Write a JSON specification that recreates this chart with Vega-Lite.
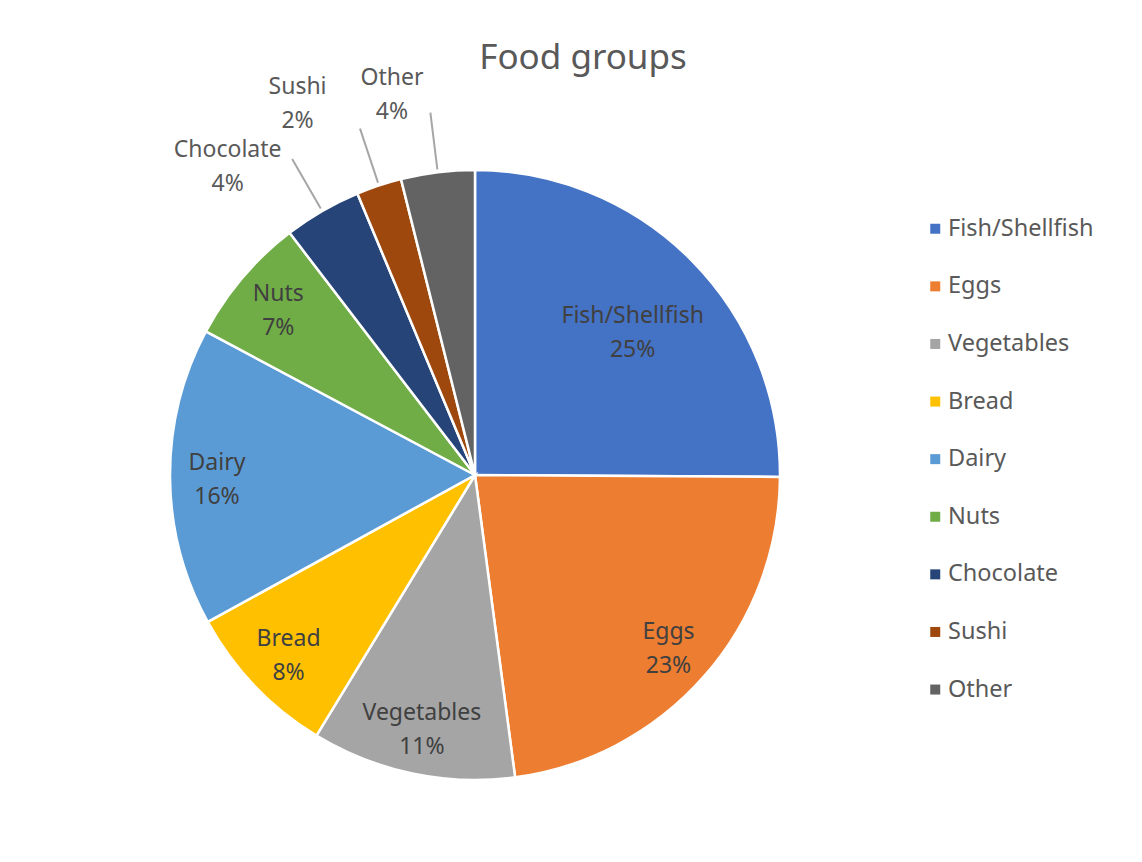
{
  "$schema": "https://vega.github.io/schema/vega-lite/v6.json",
  "width": 620,
  "height": 620,
  "autosize": {"type": "none"},
  "padding": {"left": 165, "top": 165, "right": 357, "bottom": 77},
  "background": "white",
  "title": {
    "text": "Food groups",
    "font": "Noto Sans",
    "fontSize": 35,
    "fontWeight": "normal",
    "color": "#595959",
    "anchor": "middle",
    "frame": "group",
    "baseline": "alphabetic",
    "dx": 108,
    "offset": -55
  },
  "config": {"view": {"stroke": null}, "font": "Noto Sans"},
  "data": {
    "values": [
      {"n": 1, "food": "Fish/Shellfish", "share": 25.1, "pct": "25%"},
      {"n": 2, "food": "Eggs", "share": 22.8, "pct": "23%"},
      {"n": 3, "food": "Vegetables", "share": 10.8, "pct": "11%"},
      {"n": 4, "food": "Bread", "share": 8.3, "pct": "8%"},
      {"n": 5, "food": "Dairy", "share": 15.8, "pct": "16%"},
      {"n": 6, "food": "Nuts", "share": 6.8, "pct": "7%"},
      {"n": 7, "food": "Chocolate", "share": 4.1, "pct": "4%"},
      {"n": 8, "food": "Sushi", "share": 2.4, "pct": "2%"},
      {"n": 9, "food": "Other", "share": 3.9, "pct": "4%"}
    ]
  },
  "encoding": {
    "theta": {"field": "share", "type": "quantitative", "stack": true},
    "order": {"field": "n", "type": "quantitative", "sort": "ascending"},
    "detail": {"field": "food", "type": "nominal"}
  },
  "layer": [
    {
      "mark": {"type": "arc", "outerRadius": 305, "stroke": "white", "strokeWidth": 2.5},
      "encoding": {
        "color": {
          "field": "food",
          "type": "nominal",
          "scale": {
            "domain": ["Fish/Shellfish", "Eggs", "Vegetables", "Bread", "Dairy", "Nuts", "Chocolate", "Sushi", "Other"],
            "range": ["#4472C4", "#ED7D31", "#A5A5A5", "#FFC000", "#5B9BD5", "#70AD47", "#264478", "#9E480E", "#636363"]
          },
          "legend": {
            "orient": "none",
            "legendX": 758.5,
            "legendY": 52,
            "title": null,
            "symbolType": "square",
            "symbolSize": 100,
            "symbolStrokeWidth": 0,
            "labelFont": "Noto Sans",
            "labelFontSize": 23.5,
            "labelColor": "#595959",
            "rowPadding": 32.6,
            "labelOffset": 1,
            "padding": 0
          }
        }
      }
    },
    {
      "mark": {"type": "arc", "filled": false, "outerRadius": 365, "innerRadius": 308, "padAngle": 0.6, "stroke": "#A6A6A6", "strokeWidth": 2},
      "encoding": {
        "strokeOpacity": {"condition": {"test": "indexof(['Chocolate','Sushi','Other'], datum.food) >= 0", "value": 1}, "value": 0}
      }
    },
    {
      "mark": {"type": "text", "radius": 258, "dy": -14, "fontSize": 23, "font": "Noto Sans", "fill": "#404040"},
      "encoding": {
        "text": {"field": "food"},
        "opacity": {"condition": {"test": "indexof(['Eggs','Vegetables','Bread','Dairy','Nuts'], datum.food) >= 0", "value": 1}, "value": 0}
      }
    },
    {
      "mark": {"type": "text", "radius": 258, "dy": 20, "fontSize": 23, "font": "Noto Sans", "fill": "#404040"},
      "encoding": {
        "text": {"field": "pct"},
        "opacity": {"condition": {"test": "indexof(['Eggs','Vegetables','Bread','Dairy','Nuts'], datum.food) >= 0", "value": 1}, "value": 0}
      }
    },
    {
      "mark": {"type": "text", "radius": 212, "thetaOffset": 0.05, "dy": -17, "fontSize": 23, "font": "Noto Sans", "fill": "#404040"},
      "encoding": {
        "text": {"field": "food"},
        "opacity": {"condition": {"test": "datum.food === 'Fish/Shellfish'", "value": 1}, "value": 0}
      }
    },
    {
      "mark": {"type": "text", "radius": 212, "thetaOffset": 0.05, "dy": 17, "fontSize": 23, "font": "Noto Sans", "fill": "#404040"},
      "encoding": {
        "text": {"field": "pct"},
        "opacity": {"condition": {"test": "datum.food === 'Fish/Shellfish'", "value": 1}, "value": 0}
      }
    },
    {
      "mark": {"type": "text", "radius": 395, "thetaOffset": -0.152, "dy": -17, "fontSize": 23, "font": "Noto Sans", "fill": "#595959"},
      "encoding": {
        "text": {"field": "food"},
        "opacity": {"condition": {"test": "datum.food === 'Chocolate'", "value": 1}, "value": 0}
      }
    },
    {
      "mark": {"type": "text", "radius": 395, "thetaOffset": -0.152, "dy": 17, "fontSize": 23, "font": "Noto Sans", "fill": "#595959"},
      "encoding": {
        "text": {"field": "pct"},
        "opacity": {"condition": {"test": "datum.food === 'Chocolate'", "value": 1}, "value": 0}
      }
    },
    {
      "mark": {"type": "text", "radius": 411, "thetaOffset": -0.126, "dy": -17, "fontSize": 23, "font": "Noto Sans", "fill": "#595959"},
      "encoding": {
        "text": {"field": "food"},
        "opacity": {"condition": {"test": "datum.food === 'Sushi'", "value": 1}, "value": 0}
      }
    },
    {
      "mark": {"type": "text", "radius": 411, "thetaOffset": -0.126, "dy": 17, "fontSize": 23, "font": "Noto Sans", "fill": "#595959"},
      "encoding": {
        "text": {"field": "pct"},
        "opacity": {"condition": {"test": "datum.food === 'Sushi'", "value": 1}, "value": 0}
      }
    },
    {
      "mark": {"type": "text", "radius": 389, "thetaOffset": -0.0925, "dy": -17, "fontSize": 23, "font": "Noto Sans", "fill": "#595959"},
      "encoding": {
        "text": {"field": "food"},
        "opacity": {"condition": {"test": "datum.food === 'Other'", "value": 1}, "value": 0}
      }
    },
    {
      "mark": {"type": "text", "radius": 389, "thetaOffset": -0.0925, "dy": 17, "fontSize": 23, "font": "Noto Sans", "fill": "#595959"},
      "encoding": {
        "text": {"field": "pct"},
        "opacity": {"condition": {"test": "datum.food === 'Other'", "value": 1}, "value": 0}
      }
    }
  ]
}
